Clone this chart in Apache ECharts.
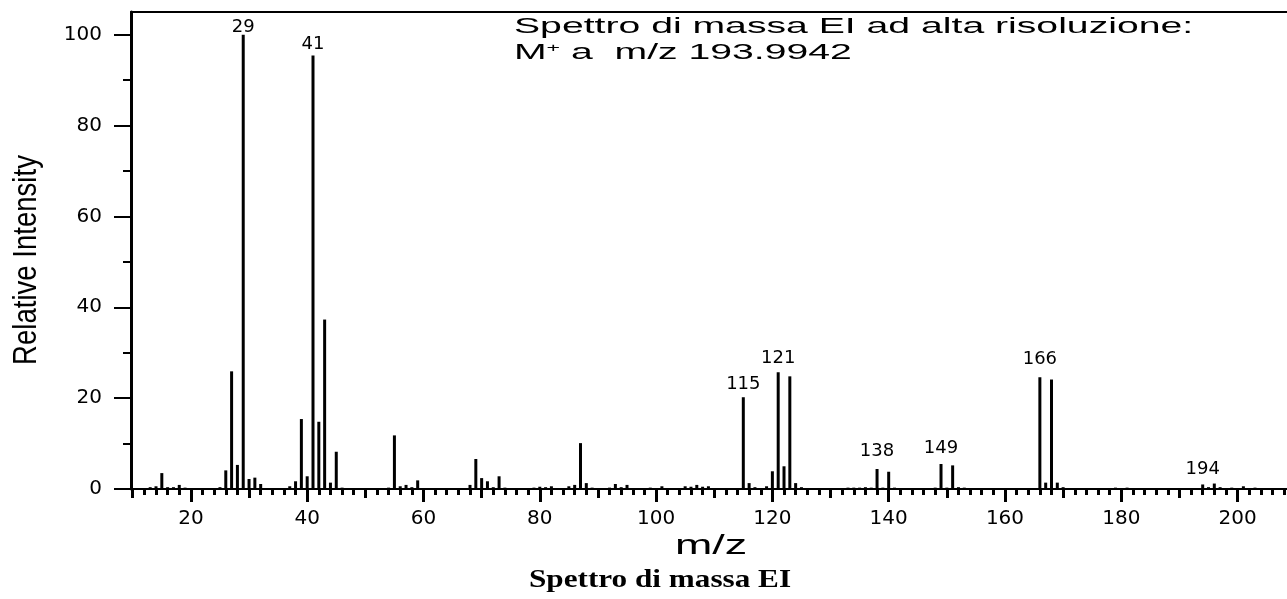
<!DOCTYPE html>
<html>
<head>
<meta charset="utf-8">
<title>Spettro di massa EI</title>
<script src="https://cdn.jsdelivr.net/npm/echarts@6/dist/echarts.min.js"></script>
<style>
  html, body { margin: 0; padding: 0; background: #fff; }
  #chart { width: 1287px; height: 599px; }
</style>
</head>
<body>
<div id="chart"></div>
<script>
// peaks: m/z and relative intensity (%)
const mz = [
  13, 14, 15, 16, 17, 18, 19, 25, 26, 27, 28, 29, 30, 31, 32,
  37, 38, 39, 40, 41, 42, 43, 44, 45, 46, 53, 54, 55, 56, 57, 58, 59,
  67, 68, 69, 70, 71, 72, 73, 74, 79, 80, 81, 82, 85, 86, 87, 88, 89,
  92, 93, 94, 95, 99, 101, 105, 106, 107, 108, 109,
  115, 116, 117, 119, 120, 121, 122, 123, 124, 125,
  133, 134, 135, 136, 137, 138, 139, 140, 141,
  148, 149, 150, 151, 152, 153, 166, 167, 168, 169, 170, 179, 181,
  194, 195, 196, 197, 199, 201, 203
];
const intensity = [
  0.4, 0.6, 3.5, 0.4, 0.4, 0.9, 0.3, 0.4, 4.1, 25.9, 5.3, 100, 2.2, 2.5, 1.1,
  0.6, 1.7, 15.4, 2.8, 95.4, 14.8, 37.3, 1.4, 8.2, 0.3, 0.2, 0.3, 11.8, 0.6, 0.9, 0.4, 1.9,
  0.2, 0.9, 6.6, 2.4, 1.7, 0.4, 2.8, 0.3, 0.3, 0.5, 0.4, 0.6, 0.6, 0.9, 10.1, 1.3, 0.3,
  0.3, 1.1, 0.4, 0.9, 0.3, 0.6, 0.6, 0.5, 0.9, 0.5, 0.6,
  20.2, 1.3, 0.4, 0.6, 3.9, 25.7, 5.0, 24.8, 1.3, 0.4,
  0.3, 0.3, 0.3, 0.4, 0.3, 4.4, 0.3, 3.8, 0.3,
  0.3, 5.5, 0.3, 5.2, 0.4, 0.3, 24.6, 1.4, 24.1, 1.4, 0.4, 0.3, 0.3,
  1.0, 0.4, 1.2, 0.4, 0.3, 0.6, 0.3
];
// peaks that carry their m/z above the bar
const labeledPeaks = [29, 41, 115, 121, 138, 149, 166, 194];

const xMajorTicks = [20, 40, 60, 80, 100, 120, 140, 160, 180, 200];
const xMidTicks = [10, 30, 50, 70, 90, 110, 130, 150, 170, 190];
const xMinorTicks = [
  12, 14, 16, 18, 22, 24, 26, 28, 32, 34, 36, 38, 42, 44, 46, 48,
  52, 54, 56, 58, 62, 64, 66, 68, 72, 74, 76, 78, 82, 84, 86, 88,
  92, 94, 96, 98, 102, 104, 106, 108, 112, 114, 116, 118, 122, 124, 126, 128,
  132, 134, 136, 138, 142, 144, 146, 148, 152, 154, 156, 158, 162, 164, 166, 168,
  172, 174, 176, 178, 182, 184, 186, 188, 192, 194, 196, 198, 202, 204, 206, 208
];
const yMajorTicks = [0, 20, 40, 60, 80, 100];
const yMinorTicks = [10, 30, 50, 70, 90];

// gap between a bar top and its label, px
const labelGap = { 29: -2, 41: 2, 115: 4, 121: 5, 138: 9, 149: 7, 166: 9, 194: 6 };

const X_MIN = 9.7, X_MAX = 208.5;
const black = '#000';
const tickFont = 'DejaVu Sans';

const chart = echarts.init(document.getElementById('chart'), null, { renderer: 'canvas' });

const barData = mz.map((m, i) => {
  const item = { value: [m, intensity[i]] };
  if (labeledPeaks.includes(m)) {
    item.label = { show: true, distance: labelGap[m] };
  }
  return item;
});

function tickAxis(values, len, position) {
  return {
    type: 'value', min: X_MIN, max: X_MAX, position: position || 'bottom',
    axisLine: { show: false },
    axisTick: { show: true, customValues: values, length: len, lineStyle: { color: black, width: 3 } },
    axisLabel: { show: false },
    splitLine: { show: false }
  };
}

const option = {
  backgroundColor: '#fff',
  animation: false,
  grid: { left: 131, right: 0, top: 12, bottom: 110 },
  xAxis: [
    {
      type: 'value', min: X_MIN, max: X_MAX, position: 'bottom',
      axisLine: { show: true, onZero: false, lineStyle: { color: black, width: 2 } },
      axisTick: { show: true, customValues: xMajorTicks, length: 13, lineStyle: { color: black, width: 3 } },
      axisLabel: { customValues: xMajorTicks, margin: 20, fontFamily: tickFont, fontSize: 20, color: black },
      splitLine: { show: false }
    },
    tickAxis(xMidTicks, 9),
    tickAxis(xMinorTicks, 6),
    {
      // top frame line
      type: 'value', min: X_MIN, max: X_MAX, position: 'top',
      axisLine: { show: true, onZero: false, lineStyle: { color: black, width: 2 } },
      axisTick: { show: false }, axisLabel: { show: false }, splitLine: { show: false }
    }
  ],
  yAxis: [
    {
      type: 'value', min: 0, max: 105, position: 'left',
      axisLine: { show: true, onZero: false, lineStyle: { color: black, width: 3 } },
      axisTick: { show: true, customValues: yMajorTicks, length: 17, lineStyle: { color: black, width: 2 } },
      axisLabel: { customValues: yMajorTicks, margin: 29, fontFamily: tickFont, fontSize: 20, color: black },
      splitLine: { show: false }
    },
    {
      type: 'value', min: 0, max: 105, position: 'left',
      axisLine: { show: false },
      axisTick: { show: true, customValues: yMinorTicks, length: 8, lineStyle: { color: black, width: 2 } },
      axisLabel: { show: false },
      splitLine: { show: false }
    }
  ],
  series: [
    {
      type: 'bar',
      xAxisIndex: 0,
      yAxisIndex: 0,
      barWidth: 3,
      silent: true,
      itemStyle: { color: black },
      label: {
        show: false,
        position: 'top',
        fontFamily: tickFont,
        fontSize: 18,
        color: black,
        formatter: p => String(p.value[0])
      },
      data: barData
    }
  ],
  graphic: {
    elements: [
      {
        type: 'text', x: 514, y: 27, scaleX: 1.78,
        style: {
          text: 'Spettro di massa EI ad alta risoluzione:',
          fontFamily: 'Liberation Sans', fontSize: 22, fill: black,
          textAlign: 'left', textVerticalAlign: 'middle'
        }
      },
      {
        type: 'text', x: 514, y: 53, scaleX: 1.78,
        style: {
          text: 'M{sup|+} a  m/z 193.9942',
          fontFamily: 'Liberation Sans', fontSize: 22, fill: black,
          textAlign: 'left', textVerticalAlign: 'middle',
          rich: { sup: { fontSize: 13, fontFamily: 'Liberation Sans', verticalAlign: 'top', fill: black } }
        }
      },
      {
        type: 'text', x: 27, y: 260, rotation: Math.PI / 2, scaleX: 1.06, scaleY: 1.25,
        style: {
          text: 'Relative Intensity',
          fontFamily: 'Liberation Sans', fontSize: 26, fill: black,
          textAlign: 'center', textVerticalAlign: 'middle'
        }
      },
      {
        type: 'text', x: 711, y: 546, scaleX: 1.6,
        style: {
          text: 'm/z',
          fontFamily: 'Liberation Sans', fontSize: 28, fill: black,
          textAlign: 'center', textVerticalAlign: 'middle'
        }
      },
      {
        type: 'text', x: 660, y: 580, scaleX: 1.2,
        style: {
          text: 'Spettro di massa EI',
          fontFamily: 'Liberation Serif', fontWeight: 'bold', fontSize: 26, fill: black,
          textAlign: 'center', textVerticalAlign: 'middle'
        }
      }
    ]
  }
};

chart.setOption(option);
</script>
</body>
</html>
